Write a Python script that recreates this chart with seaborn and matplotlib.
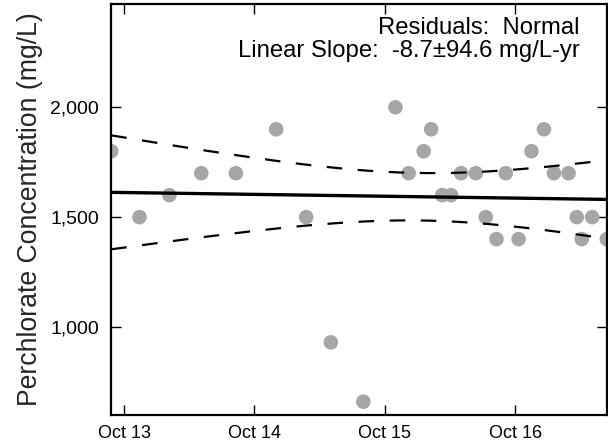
import numpy as np
import pandas as pd
import matplotlib
matplotlib.use("Agg")
import matplotlib.pyplot as plt
import matplotlib.dates as mdates
from matplotlib.ticker import FuncFormatter
import seaborn as sns

# sample dates and perchlorate results (mg/L)
sample_dates = [
    "2013-08-26", "2013-11-13", "2014-02-05", "2014-05-05", "2014-08-10",
    "2014-12-01", "2015-02-23", "2015-05-03", "2015-08-02", "2015-10-31",
    "2015-12-07", "2016-01-18", "2016-02-08", "2016-03-10", "2016-04-04",
    "2016-05-02", "2016-06-12", "2016-07-10", "2016-08-09", "2016-09-04",
    "2016-10-10", "2016-11-15", "2016-12-20", "2017-01-17", "2017-02-27",
    "2017-03-22", "2017-04-05", "2017-05-04", "2017-06-14",
]
concentrations = [
    1800, 1500, 1600, 1700, 1700,
    1900, 1500, 930, 660, 2000,
    1700, 1800, 1900, 1600, 1600,
    1700, 1700, 1500, 1400, 1700,
    1400, 1800, 1900, 1700, 1700,
    1500, 1400, 1500, 1400,
]
tick_dates = ["2013-10-01", "2014-10-01", "2015-10-01", "2016-10-01"]
y_ticks = [1000, 1500, 2000]
annot_lines = ["Residuals:  Normal", "Linear Slope:  -8.7\u00b194.6 mg/L-yr"]

sns.set_style("ticks")
plt.rcParams['font.family'] = ['Liberation Sans', 'DejaVu Sans']

df = pd.DataFrame({"date": pd.to_datetime(sample_dates), "conc": concentrations})

# linear fit with 95% confidence band on the mean
t_years = (df["date"] - df["date"].min()).dt.days.values / 365.25
y = df["conc"].values.astype(float)
n = len(y)
slope, intercept = np.polyfit(t_years, y, 1)
resid = y - (slope * t_years + intercept)
s_err = np.sqrt(np.sum(resid ** 2) / (n - 2))
t_crit = 2.052  # t(0.975, df=27)

grid = pd.date_range(df["date"].min(), df["date"].max(), periods=200)
g_years = (grid - df["date"].min()).days.values / 365.25
fit = slope * g_years + intercept
half = t_crit * s_err * np.sqrt(1.0 / n + (g_years - t_years.mean()) ** 2 / np.sum((t_years - t_years.mean()) ** 2))
fit_df = pd.DataFrame({"date": grid, "fit": fit, "lo": fit - half, "hi": fit + half})

fig = plt.figure(figsize=(6.08, 4.48), dpi=100)
ax = fig.add_axes([0.183, 0.074, 0.815, 0.917])

sns.scatterplot(data=df, x="date", y="conc", ax=ax, color="#a6a6a6", s=110,
                edgecolor="none", linewidth=0, zorder=2)
sns.lineplot(data=fit_df, x="date", y="fit", ax=ax, color="black", linewidth=2.4, zorder=3)
for col in ["lo", "hi"]:
    ax.plot(fit_df["date"], fit_df[col], color="black", linewidth=1.6,
            dashes=(7, 7), zorder=3)

ax.set_xlim(df["date"].min(), df["date"].max())
ax.set_ylim(600, 2470)
ax.set_xticks(pd.to_datetime(tick_dates))
ax.xaxis.set_major_formatter(mdates.DateFormatter("%b %y"))
ax.set_yticks(y_ticks)
ax.yaxis.set_major_formatter(FuncFormatter(lambda v, p: f"{v:,.0f}"))

ax.tick_params(direction="in", top=True, right=True, length=7, width=1.0,
               labelsize=13, colors="black")
ax.tick_params(axis="y", pad=9, labelsize=14)
ax.tick_params(axis="x", pad=7)
for sp in ax.spines.values():
    sp.set_linewidth(1.6)
    sp.set_color("black")

ax.set_xlabel("")
ax.set_ylabel("Perchlorate Concentration (mg/L)", fontsize=19.2, labelpad=5)

ax.text(0.945, 0.968, "\n".join(annot_lines), transform=ax.transAxes,
        ha="right", va="top", fontsize=17.2, linespacing=1.05, color="black")

fig.savefig("out.png", dpi=100)
